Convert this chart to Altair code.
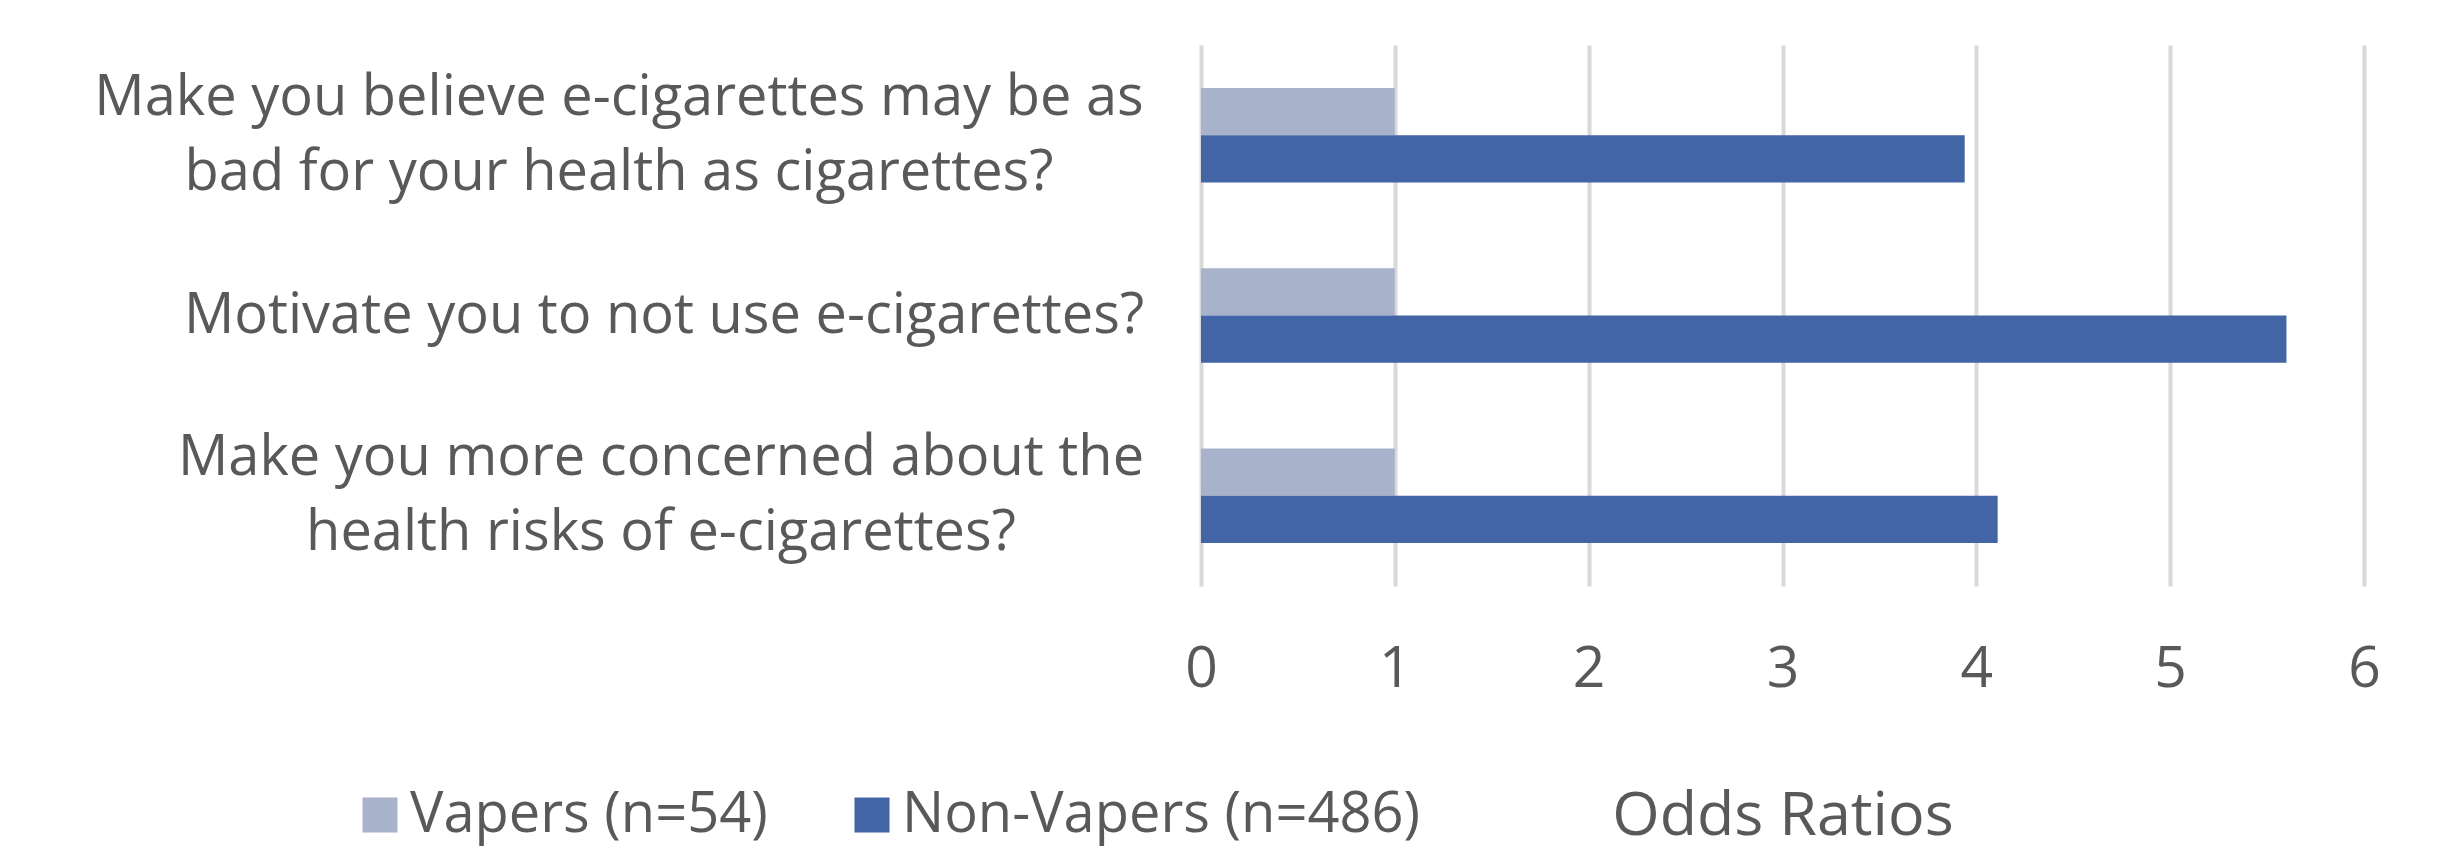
import altair as alt
import pandas as pd

categories = [
    "Make you believe e-cigarettes may be as\nbad for your health as cigarettes?",
    "Motivate you to not use e-cigarettes?",
    "Make you more concerned about the\nhealth risks of e-cigarettes?",
]
series = ["Vapers (n=54)", "Non-Vapers (n=486)"]
vapers = [1.0, 1.0, 1.0]
non_vapers = [3.94, 5.60, 4.11]
colors = ["#A8B3CB", "#4365A6"]
label_x = [-582, -537, -540]  # label block centres, px left of plot

rows = []
for c, v, n in zip(categories, vapers, non_vapers):
    rows.append({"cat": c, "series": series[0], "val": v})
    rows.append({"cat": c, "series": series[1], "val": n})
df = pd.DataFrame(rows)
lab = pd.DataFrame({"cat": categories, "lx": label_x})

FONT = "Open Sans"
TXT = "#595959"
W, H = 1163, 541
LH = 75

yscale = alt.Scale(domain=categories, paddingInner=0.476, paddingOuter=0.238)

bars = alt.Chart(df).mark_bar().encode(
    x=alt.X("val:Q", scale=alt.Scale(domain=[0, 6], nice=False),
            axis=alt.Axis(values=[0, 1, 2, 3, 4, 5, 6], format="d", grid=True,
                          gridColor="#D9D9D9", gridWidth=4, domain=False, ticks=False,
                          labelFlush=False, labelOverlap=False,
                          labelFontSize=57, labelFont=FONT, labelColor=TXT,
                          labelBaseline="alphabetic", labelPadding=100,
                          title="Odds Ratios", titleFont=FONT, titleFontSize=61,
                          titleFontWeight="normal", titleColor=TXT,
                          titleBaseline="alphabetic", titleX=W / 2, titleY=248)),
    y=alt.Y("cat:N", scale=yscale, sort=categories, axis=None),
    yOffset=alt.YOffset("series:N", sort=series, scale=alt.Scale(domain=series)),
    color=alt.Color("series:N", sort=series,
                    scale=alt.Scale(domain=series, range=colors),
                    legend=alt.Legend(orient="none", legendX=-849, legendY=742,
                                      direction="horizontal", title=None,
                                      symbolType="square", symbolSize=1225,
                                      symbolStrokeWidth=0, labelFont=FONT,
                                      labelFontSize=56, labelColor=TXT, labelLimit=0,
                                      labelOffset=2, columnPadding=76)),
)

layers = [bars]
for c, lx in zip(categories, label_x):
    n_lines = c.count("\n") + 1
    layers.append(
        alt.Chart(lab).transform_filter(alt.datum.cat == c).mark_text(
            align="center", baseline="middle", lineBreak="\n", lineHeight=LH,
            font=FONT, fontSize=56, color=TXT, dy=-(n_lines - 1) * LH / 2,
        ).encode(
            x=alt.X("lx:Q", scale=None),
            y=alt.Y("cat:N", scale=yscale, sort=categories, axis=None),
            text="cat:N",
        )
    )

chart = alt.layer(*layers).properties(
    width=W, height=H,
    padding={"left": 1201, "top": 45, "right": 81, "bottom": 266},
    autosize=alt.AutoSizeParams(type="none"),
    background="white",
).configure_view(stroke=None)

chart.save("out.html", embed_options={"renderer": "svg", "actions": False})
